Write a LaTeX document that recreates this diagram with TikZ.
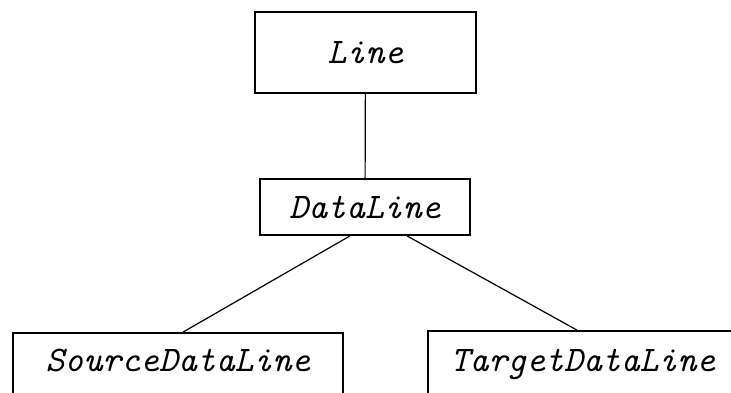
\documentclass[tikz,border=0pt]{standalone}
\usepackage{fontspec}
\begin{document}
\begin{tikzpicture}[x=1pt,y=-1pt,
  cls/.style={draw=black,line width=1.8pt,fill=white,font=\fontsize{36}{40}\selectfont\ttfamily\itshape,inner sep=0pt},
  link/.style={draw=black,line width=1.2pt}]
\useasboundingbox (0,0) rectangle (731,392);
\clip (0,0) rectangle (731,392);
\node[cls,minimum width=221pt,minimum height=81pt] (line) at (365.5,52.5) {Line};
\node[cls,minimum width=210pt,minimum height=56pt] (dl) at (365,207) {DataLine};
\node[cls,anchor=base,minimum width=330pt,text height=30pt,text depth=40pt,inner ysep=8pt] (src) at (178,371) {SourceDataLine};
\node[cls,anchor=base,minimum width=310pt,text height=32pt,text depth=40pt,inner ysep=8pt] (tgt) at (583,371) {TargetDataLine};
\draw[link] (line) -- (dl);
\draw[link] ([xshift=-15pt]dl.south) -- ([xshift=5pt]src.north);
\draw[link] ([xshift=42pt]dl.south) -- ([xshift=-6pt]tgt.north);
\end{tikzpicture}
\end{document}
